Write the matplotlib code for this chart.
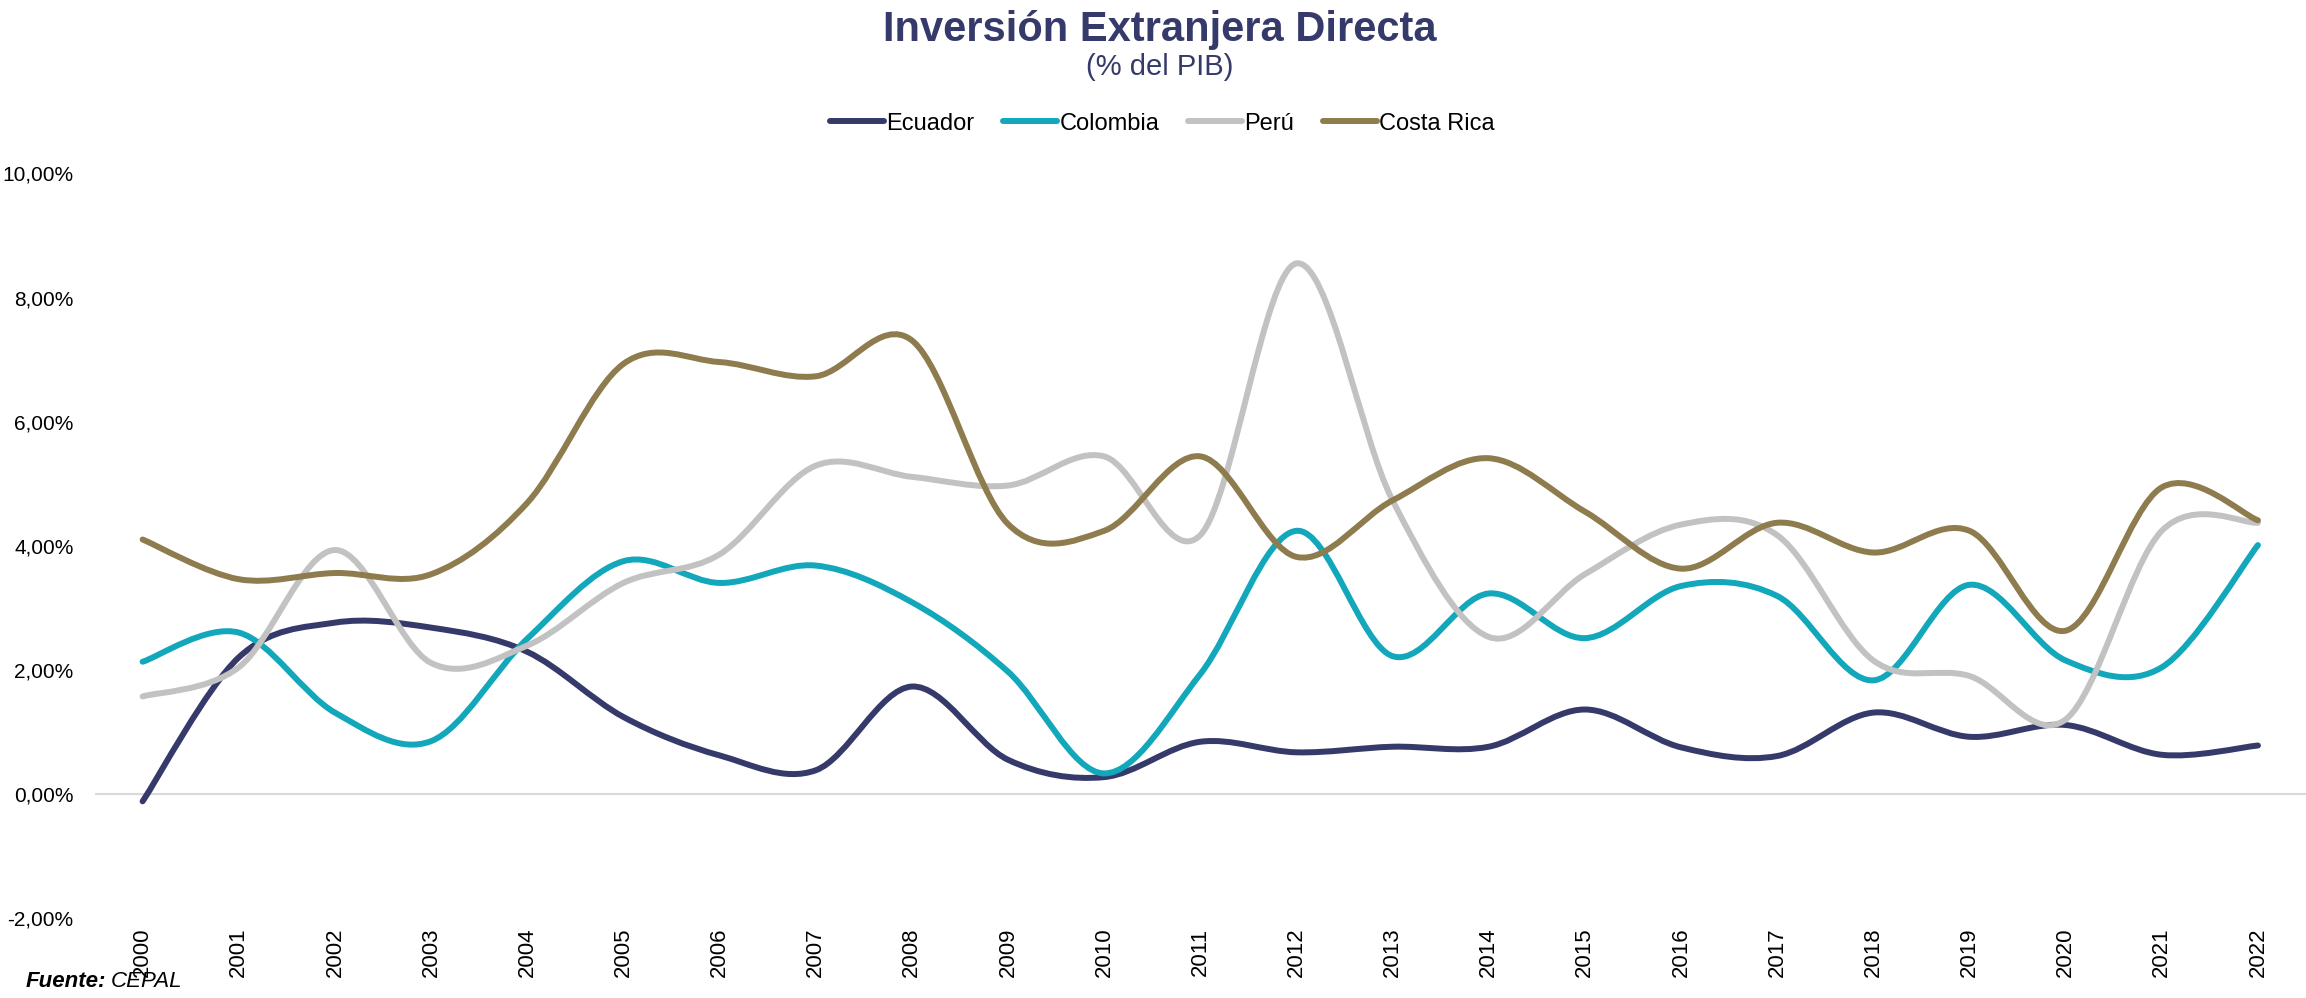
import matplotlib
matplotlib.use("Agg")
import matplotlib.pyplot as plt
from matplotlib.path import Path
from matplotlib.patches import PathPatch
from matplotlib.lines import Line2D

plt.rcParams['font.family'] = ['Liberation Sans', 'DejaVu Sans']

# IED como % del PIB, 2000-2022
years = list(range(2000, 2023))
ecuador = [-0.12, 2.20, 2.76, 2.68, 2.29, 1.24, 0.62, 0.38, 1.73, 0.55, 0.27, 0.84,
           0.67, 0.76, 0.76, 1.36, 0.75, 0.61, 1.31, 0.92, 1.11, 0.63, 0.78]
colombia = [2.13, 2.60, 1.31, 0.85, 2.50, 3.75, 3.40, 3.68, 3.09, 1.97, 0.33, 1.93,
            4.24, 2.22, 3.23, 2.51, 3.35, 3.19, 1.83, 3.37, 2.15, 2.04, 4.01]
peru = [1.57, 2.04, 3.93, 2.11, 2.39, 3.40, 3.86, 5.29, 5.11, 4.97, 5.44, 4.17,
        8.55, 4.73, 2.53, 3.54, 4.34, 4.17, 2.15, 1.90, 1.20, 4.24, 4.37]
costa_rica = [4.10, 3.46, 3.56, 3.54, 4.69, 6.93, 6.96, 6.73, 7.31, 4.35, 4.24, 5.44,
              3.82, 4.73, 5.41, 4.55, 3.63, 4.37, 3.89, 4.24, 2.63, 4.94, 4.41]

series = [
    ("Ecuador", ecuador, "#353a6a"),
    ("Colombia", colombia, "#12a7bb"),
    ("Perú", peru, "#c2c2c2"),
    ("Costa Rica", costa_rica, "#8e7c4e"),
]
y_ticks = [-2, 0, 2, 4, 6, 8, 10]
LW = 4.3


def smooth_path(x, y):
    # curva suavizada tipo Excel (Bezier cúbica, Catmull-Rom)
    n = len(x)
    verts = [(x[0], y[0])]
    codes = [Path.MOVETO]
    for i in range(n - 1):
        xa, ya = (x[i - 1], y[i - 1]) if i > 0 else (x[i], y[i])
        xb, yb = (x[i + 2], y[i + 2]) if i + 2 < n else (x[i + 1], y[i + 1])
        c1 = (x[i] + (x[i + 1] - xa) / 6, y[i] + (y[i + 1] - ya) / 6)
        c2 = (x[i + 1] - (xb - x[i]) / 6, y[i + 1] - (yb - y[i]) / 6)
        verts += [c1, c2, (x[i + 1], y[i + 1])]
        codes += [Path.CURVE4] * 3
    return Path(verts, codes)


fig = plt.figure(figsize=(23.06, 9.98), dpi=100)
ax = fig.add_axes([0.041, 0.0802, 0.959, 0.746])

idx = list(range(len(years)))
handles = []
for name, vals, color in series:
    patch = PathPatch(smooth_path(idx, vals), fill=False, edgecolor=color, lw=LW,
                      capstyle='round', joinstyle='round', zorder=3)
    ax.add_patch(patch)
    handles.append(Line2D([], [], color=color, lw=LW, solid_capstyle='round', label=name))

ax.axhline(0, color='#d9d9d9', lw=1.5, zorder=1)

ax.set_xlim(-0.5, len(years) - 0.5)
ax.set_ylim(-2, 10)
ax.set_xticks(idx)
ax.set_xticklabels([str(y) for y in years], rotation=90, fontsize=16)
ax.set_yticks(y_ticks)
ax.set_yticklabels([f"{v:.2f}".replace('.', ',') + '%' for v in y_ticks], fontsize=15)
ax.tick_params(axis='both', length=0)
ax.tick_params(axis='x', pad=7)
ax.tick_params(axis='y', pad=15)
for s in ax.spines.values():
    s.set_visible(False)

fig.text(0.503, 0.959, "Inversión Extranjera Directa", ha='center', va='baseline',
         fontsize=30, fontweight='bold', color='#363a6b')
fig.text(0.503, 0.925, "(% del PIB)", ha='center', va='baseline',
         fontsize=21, color='#363a6b')

fig.legend(handles=handles, loc='center', bbox_to_anchor=(0.504, 0.876), ncol=4,
           frameon=False, fontsize=17, handlelength=2.3, handletextpad=0.1,
           columnspacing=1.2)

# fuente: "Fuente:" en negrita cursiva, seguido de "CEPAL" en cursiva
fuente = fig.text(0.0113, 0.006, "Fuente:", ha='left', va='bottom', fontsize=16,
                  fontweight='bold', style='italic')
ax.annotate("CEPAL", xy=(1, 0), xycoords=fuente, xytext=(3, 0),
            textcoords='offset points', ha='left', va='bottom', fontsize=16,
            style='italic', annotation_clip=False)

fig.savefig("out.png", dpi=100)
